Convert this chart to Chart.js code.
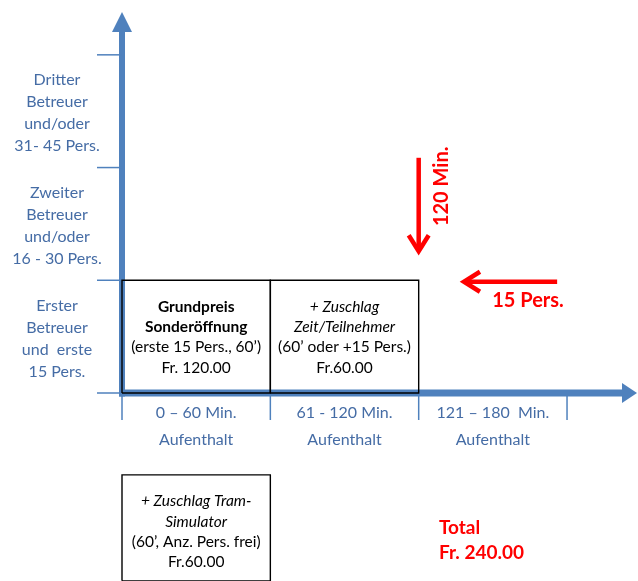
<!DOCTYPE html>
<html>
<head>
<script src="https://cdn.jsdelivr.net/npm/chart.js@4.4.0/dist/chart.umd.min.js"></script>
<style>
body {
  margin: 0;
  background: #ffffff;
}
#wrap {
  width: 638px;
  height: 581px;
}
</style>
</head>
<body>

<div id="wrap">
  <canvas id="chart" width="638" height="581"></canvas>
</div>

<script>
// Achsen: Minuten (x) und Personen (y)
var minuteTicks = [0, 60, 120, 180];
var personTicks = [0, 15, 30, 45];

var timeLabels = [
  ["0 – 60 Min.", "Aufenthalt"],
  ["61 - 120 Min.", "Aufenthalt"],
  ["121 – 180  Min.", "Aufenthalt"]
];
var staffLabels = [
  ["Erster", "Betreuer", "und  erste", "15 Pers."],
  ["Zweiter", "Betreuer", "und/oder", "16 - 30 Pers."],
  ["Dritter", "Betreuer", "und/oder", "31- 45 Pers."]
];

// Preisfelder (Minuten von/bis, Personen von/bis)
var boxMinutes = [[0, 60], [60, 120], [0, 60]];
var boxPersons = [[0, 15], [0, 15], [-25, -10.9]];
var boxHeads = [
  ["Grundpreis", "Sonderöffnung"],
  ["+ Zuschlag", "Zeit/Teilnehmer"],
  ["+ Zuschlag Tram-", "Simulator"]
];
var boxNotes = [
  ["(erste 15 Pers., 60’)", "Fr. 120.00"],
  ["(60’ oder +15 Pers.)", "Fr.60.00"],
  ["(60’, Anz. Pers. frei)", "Fr.60.00"]
];
var boxPrices = [120, 60, 60];

var axisBlue = "#4f81bd";
var textBlue = "#456ca5";
var red = "#ff0000";
var font = "Lato, 'Open Sans', sans-serif";

// Rechtecke als Linien-Datasets
var datasets = boxMinutes.map(function (m, i) {
  var p = boxPersons[i];
  return {
    data: [
      {x: m[0], y: p[0]}, {x: m[0], y: p[1]}, {x: m[1], y: p[1]},
      {x: m[1], y: p[0]}, {x: m[0], y: p[0]}
    ],
    showLine: true,
    borderColor: "#000000",
    borderWidth: 1.4,
    borderJoinStyle: "miter",
    pointRadius: 0,
    tension: 0,
    fill: false,
    clip: false
  };
});

var diagram = {
  id: "diagram",
  beforeDatasetsDraw: function (chart) {
    var ctx = chart.ctx, xs = chart.scales.x, ys = chart.scales.y, a = chart.chartArea;
    var x0 = xs.getPixelForValue(0), y0 = ys.getPixelForValue(0);
    ctx.save();
    ctx.fillStyle = axisBlue;
    // y-Achse mit Pfeil
    ctx.fillRect(x0 - 3, a.top + 20, 6, y0 + 3.5 - (a.top + 20));
    ctx.beginPath();
    ctx.moveTo(x0 - 10, a.top + 20);
    ctx.lineTo(x0 + 10, a.top + 20);
    ctx.lineTo(x0, a.top);
    ctx.fill();
    // x-Achse mit Pfeil
    ctx.fillRect(x0 - 3, y0 - 3.5, a.right - 15 - (x0 - 3), 7);
    ctx.beginPath();
    ctx.moveTo(a.right - 15, y0 - 10);
    ctx.lineTo(a.right - 15, y0 + 10);
    ctx.lineTo(a.right, y0);
    ctx.fill();
    // Striche
    ctx.strokeStyle = axisBlue;
    ctx.lineWidth = 1.5;
    personTicks.forEach(function (p) {
      var y = ys.getPixelForValue(p);
      ctx.beginPath();
      ctx.moveTo(x0 - 25, y);
      ctx.lineTo(x0, y);
      ctx.stroke();
    });
    minuteTicks.forEach(function (m) {
      var x = xs.getPixelForValue(m);
      ctx.beginPath();
      ctx.moveTo(x, y0 + 3);
      ctx.lineTo(x, y0 + 27);
      ctx.stroke();
    });
    ctx.restore();
  },
  afterDatasetsDraw: function (chart) {
    var ctx = chart.ctx, xs = chart.scales.x, ys = chart.scales.y;
    var x0 = xs.getPixelForValue(0), y0 = ys.getPixelForValue(0);
    ctx.save();
    ctx.textAlign = "center";
    ctx.textBaseline = "middle";

    // Achsenbeschriftungen
    ctx.fillStyle = textBlue;
    ctx.font = "16px " + font;
    staffLabels.forEach(function (lines, i) {
      var cy = ys.getPixelForValue((personTicks[i] + personTicks[i + 1]) / 2) + 2;
      lines.forEach(function (t, j) {
        ctx.fillText(t, x0 - 65, cy + (j - 1.5) * 22);
      });
    });
    timeLabels.forEach(function (lines, i) {
      var cx = xs.getPixelForValue((minuteTicks[i] + minuteTicks[i + 1]) / 2);
      ctx.fillText(lines[0], cx, y0 + 20);
      ctx.fillText(lines[1], cx, y0 + 47);
    });

    // Text in den Feldern
    ctx.fillStyle = "#000000";
    boxMinutes.forEach(function (m, i) {
      var cx = (xs.getPixelForValue(m[0]) + xs.getPixelForValue(m[1])) / 2;
      var top = ys.getPixelForValue(boxPersons[i][1]);
      var head = i === 0 ? "bold 15.5px " : "italic 15.5px ";
      boxHeads[i].concat(boxNotes[i]).forEach(function (t, k) {
        ctx.font = (k < 2 ? head : "15.5px ") + font;
        ctx.fillText(t, cx, top + 26.5 + k * 20.3);
      });
    });

    // rote Pfeile
    ctx.strokeStyle = red;
    ctx.fillStyle = red;
    ctx.lineWidth = 4.5;
    ctx.lineJoin = "miter";
    var ax = xs.getPixelForValue(minuteTicks[2]);
    var tip = ys.getPixelForValue(18.6);
    ctx.beginPath();
    ctx.moveTo(ax, ys.getPixelForValue(31.3));
    ctx.lineTo(ax, tip - 2);
    ctx.stroke();
    ctx.beginPath();
    ctx.moveTo(ax - 10, tip - 18);
    ctx.lineTo(ax, tip - 2);
    ctx.lineTo(ax + 10, tip - 18);
    ctx.stroke();

    var ay = ys.getPixelForValue(personTicks[1]) + 1.5;
    var hx = xs.getPixelForValue(137.5);
    ctx.beginPath();
    ctx.moveTo(xs.getPixelForValue(176), ay);
    ctx.lineTo(hx + 2, ay);
    ctx.stroke();
    ctx.beginPath();
    ctx.moveTo(hx + 18, ay - 10);
    ctx.lineTo(hx + 2, ay);
    ctx.lineTo(hx + 18, ay + 10);
    ctx.stroke();

    ctx.font = "bold 20px " + font;
    ctx.fillText("15 Pers.", xs.getPixelForValue(164.2), ay + 19);
    ctx.save();
    ctx.translate(ax + 23, ys.getPixelForValue(27.5));
    ctx.rotate(-Math.PI / 2);
    ctx.fillText("120 Min.", 0, 0);
    ctx.restore();

    // Total
    var total = boxPrices.reduce(function (s, v) { return s + v; }, 0);
    ctx.font = "bold 19px " + font;
    ctx.textAlign = "left";
    ctx.fillText("Total", xs.getPixelForValue(128.2), ys.getPixelForValue(-18));
    ctx.fillText("Fr. " + total.toFixed(2), xs.getPixelForValue(128.2), ys.getPixelForValue(-21.3));
    ctx.restore();
  }
};

var chart = new Chart(document.getElementById("chart"), {
  type: "scatter",
  data: { datasets: datasets },
  options: {
    responsive: false,
    animation: false,
    devicePixelRatio: 1,
    layout: {
      autoPadding: false,
      padding: { left: 122, right: 1, top: 12, bottom: 188 }
    },
    scales: {
      x: { type: "linear", display: false, min: 0, max: 208.3 },
      y: { type: "linear", display: false, min: 0, max: 50.7 }
    },
    plugins: {
      legend: { display: false },
      tooltip: { enabled: false }
    }
  },
  plugins: [diagram]
});
</script>

</body>
</html>
